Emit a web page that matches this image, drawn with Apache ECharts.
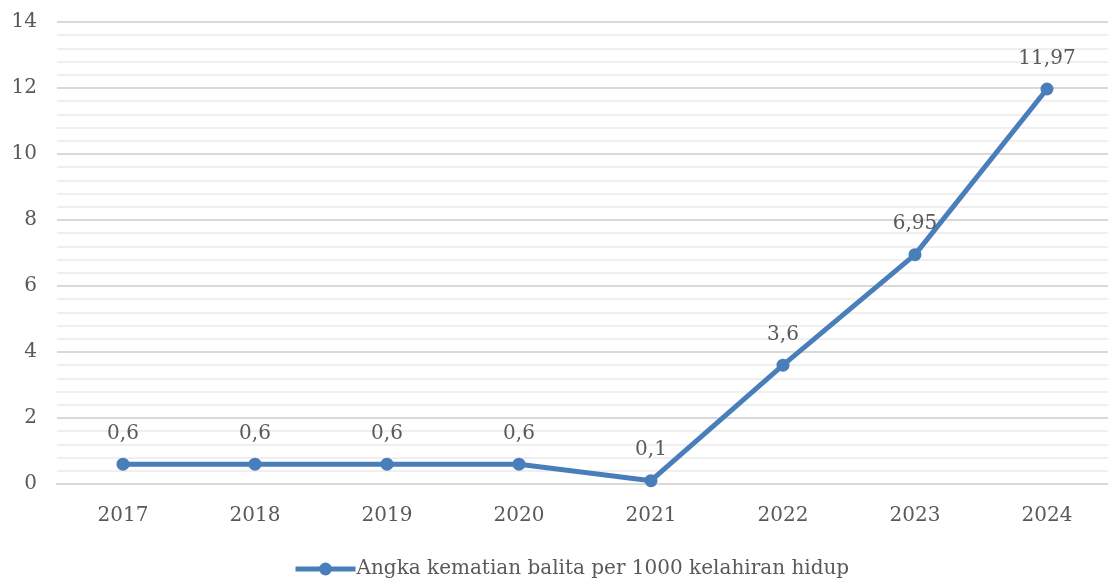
<!DOCTYPE html>
<html>
<head>
<meta charset="utf-8">
<script src="https://cdn.jsdelivr.net/npm/echarts@6/dist/echarts.min.js"></script>
<style>
  html, body { margin: 0; padding: 0; background: #fff; }
  #chart { width: 1108px; height: 580px; }
</style>
</head>
<body>
<div id="chart"></div>
<script>
const years = ['2017', '2018', '2019', '2020', '2021', '2022', '2023', '2024'];
const values = [0.6, 0.6, 0.6, 0.6, 0.1, 3.6, 6.95, 11.97];
const seriesName = 'Angka kematian balita per 1000 kelahiran hidup';

const fontFamily = '"DejaVu Serif", "Liberation Serif", serif';
const textColor = '#595959';
const lineColor = '#4a7ebb';

const chart = echarts.init(document.getElementById('chart'));

chart.setOption({
  animation: false,
  textStyle: { fontFamily: fontFamily },
  grid: {
    left: 57,
    top: 22,
    width: 1056,
    height: 462,
    outerBoundsMode: 'none',
  },
  legend: {
    top: 554,
    left: 288,
    itemWidth: 60,
    itemHeight: 16,
    itemGap: 0,
    lineStyle: { width: 5, color: lineColor },
    textStyle: { fontSize: 20, color: textColor, fontFamily: fontFamily, padding: [0, 0, 0, -4] },
    data: [seriesName],
  },
  xAxis: {
    type: 'category',
    data: years,
    boundaryGap: true,
    axisLine: { show: true, lineStyle: { color: '#d9d9d9', width: 2 } },
    axisTick: { show: false },
    axisLabel: { fontSize: 20, color: textColor, margin: 22, fontFamily: fontFamily },
  },
  yAxis: {
    type: 'value',
    min: 0,
    max: 14,
    interval: 2,
    axisLine: { show: false },
    axisTick: { show: false },
    axisLabel: { fontSize: 20, color: textColor, margin: 20, fontFamily: fontFamily },
    splitLine: { lineStyle: { color: '#d9d9d9', width: 2 } },
    minorTick: { show: false, splitNumber: 5 },
    minorSplitLine: { show: true, lineStyle: { color: '#efefef', width: 2 } },
  },
  series: [
    {
      name: seriesName,
      type: 'line',
      data: values,
      symbol: 'circle',
      symbolSize: 13,
      lineStyle: { color: lineColor, width: 5 },
      itemStyle: { color: lineColor },
      label: {
        show: true,
        position: 'top',
        distance: 14,
        fontSize: 20,
        color: textColor,
        fontFamily: fontFamily,
        formatter: (p) => String(p.value).replace('.', ','),
      },
    },
  ],
});
</script>
</body>
</html>
